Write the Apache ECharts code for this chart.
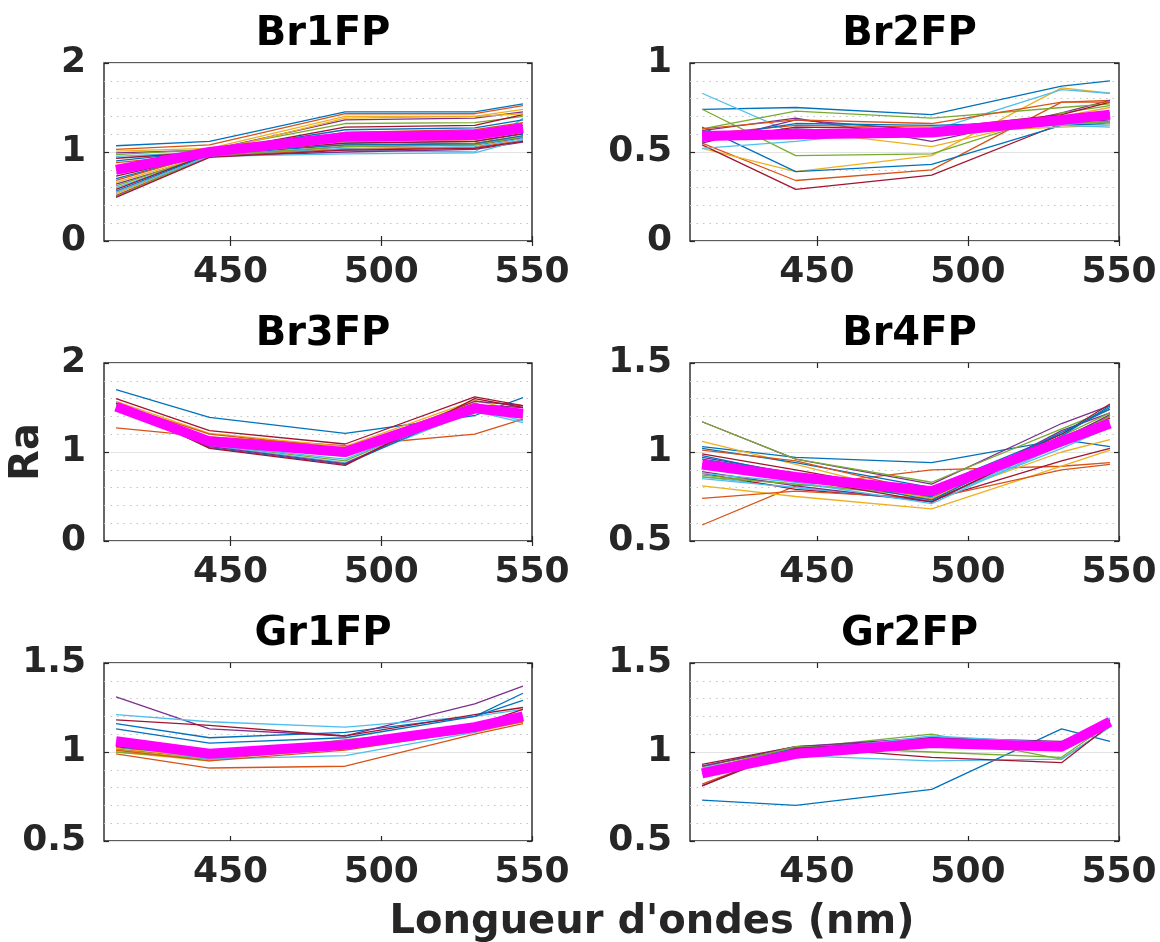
<!DOCTYPE html>
<html>
<head>
<meta charset="utf-8">
<script src="https://cdn.jsdelivr.net/npm/echarts@6/dist/echarts.min.js"></script>
<style>
html,body{margin:0;padding:0;background:#fff;}
#chart{width:1160px;height:942px;}
</style>
</head>
<body>
<div id="chart"></div>
<script>
// ---------- data ----------
const wavelengths = [412, 443, 488, 531, 547];
const panelTitles = ['Br1FP', 'Br2FP', 'Br3FP', 'Br4FP', 'Gr1FP', 'Gr2FP'];
const xTickValues = [450, 500, 550];
const yMins = [0, 0, 0, 0.5, 0.5, 0.5];
const yMaxs = [2, 1, 2, 1.5, 1.5, 1.5];
const yMajorSteps = [1, 0.5, 1, 0.5, 0.5, 0.5];

const br1Lines = [
  [1.07, 1.12, 1.45, 1.45, 1.54],
  [1.03, 1.08, 1.43, 1.43, 1.52],
  [1.01, 1.04, 1.40, 1.40, 1.48],
  [0.99, 1.02, 1.36, 1.38, 1.45],
  [0.97, 1.03, 1.32, 1.33, 1.40],
  [0.95, 1.00, 1.02, 1.00, 1.38],
  [0.93, 1.00, 1.28, 1.30, 1.42],
  [0.90, 1.01, 1.25, 1.27, 1.36],
  [0.88, 0.98, 1.22, 1.25, 1.33],
  [0.85, 1.00, 1.38, 1.40, 1.43],
  [0.82, 0.97, 1.20, 1.22, 1.30],
  [0.79, 0.99, 1.18, 1.20, 1.28],
  [0.76, 0.98, 1.15, 1.16, 1.25],
  [0.73, 0.97, 1.12, 1.14, 1.22],
  [0.70, 0.98, 1.10, 1.12, 1.20],
  [0.68, 0.99, 1.08, 1.10, 1.18],
  [0.66, 0.97, 1.16, 1.18, 1.26],
  [0.64, 0.95, 1.06, 1.08, 1.16],
  [0.62, 0.97, 1.14, 1.15, 1.24],
  [0.60, 0.96, 1.04, 1.06, 1.15],
  [0.58, 0.98, 1.10, 1.12, 1.21],
  [0.56, 0.97, 1.08, 1.09, 1.18],
  [0.55, 0.95, 1.03, 1.05, 1.13],
  [0.53, 0.96, 1.12, 1.14, 1.22],
  [0.51, 0.95, 1.00, 1.03, 1.11],
  [0.50, 0.96, 1.06, 1.08, 1.17],
  [0.55, 0.95, 0.98, 0.99, 1.14],
  [0.49, 0.94, 1.02, 1.04, 1.12]
];
const br1Mean = [0.80, 1.00, 1.17, 1.19, 1.27];

const br2Lines = [
  [0.74, 0.75, 0.71, 0.87, 0.90],
  [0.55, 0.34, 0.40, 0.78, 0.79],
  [0.52, 0.39, 0.48, 0.86, 0.83],
  [0.62, 0.69, 0.56, 0.72, 0.79],
  [0.74, 0.48, 0.49, 0.72, 0.76],
  [0.83, 0.60, 0.62, 0.85, 0.83],
  [0.54, 0.29, 0.37, 0.66, 0.67],
  [0.64, 0.39, 0.43, 0.65, 0.66],
  [0.60, 0.65, 0.64, 0.68, 0.70],
  [0.60, 0.62, 0.53, 0.70, 0.75],
  [0.55, 0.68, 0.62, 0.66, 0.68],
  [0.63, 0.73, 0.69, 0.75, 0.77],
  [0.52, 0.56, 0.64, 0.69, 0.66],
  [0.56, 0.64, 0.63, 0.71, 0.78],
  [0.58, 0.66, 0.65, 0.67, 0.69],
  [0.63, 0.68, 0.66, 0.78, 0.78],
  [0.57, 0.60, 0.61, 0.64, 0.65],
  [0.59, 0.63, 0.60, 0.70, 0.72],
  [0.61, 0.62, 0.62, 0.66, 0.67],
  [0.58, 0.61, 0.63, 0.65, 0.64]
];
const br2Mean = [0.59, 0.60, 0.61, 0.68, 0.71];

const br3Lines = [
  [1.70, 1.39, 1.21, 1.41, 1.61],
  [1.27, 1.17, 1.07, 1.20, 1.37],
  [1.57, 1.21, 1.06, 1.58, 1.45],
  [1.55, 1.15, 1.00, 1.57, 1.52],
  [1.52, 1.08, 0.90, 1.52, 1.40],
  [1.50, 1.07, 0.88, 1.46, 1.33],
  [1.60, 1.24, 1.09, 1.62, 1.52],
  [1.52, 1.05, 0.86, 1.50, 1.45],
  [1.54, 1.20, 1.04, 1.55, 1.40],
  [1.51, 1.13, 0.98, 1.52, 1.38],
  [1.50, 1.06, 0.87, 1.53, 1.50],
  [1.49, 1.10, 0.95, 1.48, 1.39],
  [1.53, 1.08, 0.92, 1.49, 1.35],
  [1.55, 1.04, 0.85, 1.60, 1.50]
];
const br3Mean = [1.51, 1.12, 1.00, 1.49, 1.43];

const br4Lines = [
  [1.03, 0.97, 0.94, 1.07, 1.03],
  [0.59, 0.81, 0.90, 0.92, 0.94],
  [1.06, 0.93, 0.74, 1.00, 1.07],
  [1.17, 0.96, 0.82, 1.16, 1.26],
  [1.17, 0.96, 0.83, 1.13, 1.24],
  [0.86, 0.80, 0.72, 1.05, 1.18],
  [0.88, 0.79, 0.73, 0.95, 1.02],
  [1.02, 0.94, 0.80, 1.10, 1.25],
  [1.01, 0.95, 0.77, 1.08, 1.20],
  [0.81, 0.75, 0.68, 0.92, 1.01],
  [0.97, 0.88, 0.74, 1.12, 1.22],
  [0.87, 0.82, 0.75, 1.08, 1.20],
  [0.85, 0.80, 0.73, 1.02, 1.14],
  [0.99, 0.90, 0.76, 1.10, 1.27],
  [0.96, 0.88, 0.75, 1.11, 1.24],
  [0.74, 0.78, 0.74, 0.90, 0.93],
  [0.93, 0.86, 0.74, 1.06, 1.16],
  [0.89, 0.81, 0.72, 1.07, 1.21],
  [0.86, 0.82, 0.76, 1.09, 1.22],
  [0.88, 0.83, 0.71, 1.04, 1.17],
  [0.93, 0.85, 0.72, 1.07, 1.19],
  [0.98, 0.87, 0.73, 1.09, 1.26]
];
const br4Mean = [0.93, 0.86, 0.78, 1.06, 1.16];

const gr1Lines = [
  [1.16, 1.08, 1.11, 1.20, 1.33],
  [0.99, 0.91, 0.92, 1.10, 1.16],
  [1.00, 0.95, 1.05, 1.12, 1.17],
  [1.31, 1.13, 1.09, 1.27, 1.37],
  [1.01, 0.97, 1.07, 1.13, 1.19],
  [1.21, 1.17, 1.14, 1.20, 1.24],
  [1.18, 1.15, 1.09, 1.21, 1.25],
  [1.13, 1.05, 1.08, 1.20, 1.29],
  [1.02, 0.96, 1.02, 1.12, 1.18],
  [1.01, 0.96, 1.04, 1.11, 1.17],
  [1.02, 0.97, 1.03, 1.13, 1.20],
  [1.00, 0.96, 1.04, 1.12, 1.18],
  [1.03, 0.96, 0.98, 1.11, 1.19],
  [1.03, 0.98, 1.03, 1.15, 1.24],
  [1.02, 0.99, 1.06, 1.14, 1.20],
  [1.01, 0.95, 1.01, 1.12, 1.17],
  [1.02, 0.97, 1.03, 1.13, 1.18]
];
const gr1Mean = [1.06, 0.99, 1.04, 1.14, 1.20];

const gr2Lines = [
  [0.73, 0.70, 0.79, 1.13, 1.06],
  [0.82, 1.02, 1.06, 1.04, 1.16],
  [0.88, 1.01, 1.08, 1.02, 1.15],
  [0.81, 1.03, 1.07, 1.05, 1.17],
  [0.92, 1.02, 1.10, 0.96, 1.14],
  [0.92, 0.98, 0.95, 0.96, 1.14],
  [0.93, 1.03, 0.97, 0.94, 1.15],
  [0.90, 1.02, 1.07, 1.03, 1.18],
  [0.89, 1.00, 1.08, 1.04, 1.17],
  [0.91, 1.01, 1.06, 1.01, 1.16],
  [0.92, 1.03, 1.08, 1.06, 1.18],
  [0.90, 1.03, 1.00, 0.97, 1.16],
  [0.91, 1.00, 1.09, 1.05, 1.19],
  [0.81, 1.02, 1.06, 1.02, 1.15]
];
const gr2Mean = [0.88, 0.99, 1.05, 1.03, 1.17];

const panelLines = [br1Lines, br2Lines, br3Lines, br4Lines, gr1Lines, gr2Lines];
const panelMeans = [br1Mean, br2Mean, br3Mean, br4Mean, gr1Mean, gr2Mean];

// ---------- style / layout ----------
const lineColors = ['#0072BD', '#D95319', '#EDB120', '#7E2F8E', '#77AC30', '#4DBEEE', '#A2142F'];
const FONT = 'DejaVu Sans';
const TXT = '#262626';
const colLeft = [104, 690];
const colWidth = [428, 429];
const rowTop = [63, 363, 663];
const plotH = 178;

const grids = [], xAxes = [], yAxes = [], series = [], titles = [];
panelTitles.forEach((name, i) => {
  const r = Math.floor(i / 2), c = i % 2;
  grids.push({left: colLeft[c], top: rowTop[r], width: colWidth[c], height: plotH,
    show: true, borderColor: TXT, borderWidth: 1.4, backgroundColor: '#fff', containLabel: false});
  const xBase = {type: 'value', gridIndex: i, min: 408, max: 550,
    axisLine: {show: false}, splitLine: {show: false}};
  xAxes.push(Object.assign({}, xBase, {position: 'bottom',
    axisTick: {show: true, inside: true, length: 5, lineStyle: {color: TXT, width: 1.2}, customValues: xTickValues},
    axisLabel: {show: true, customValues: xTickValues, fontFamily: FONT, fontWeight: 'bold', fontSize: 36, color: TXT, margin: 14}}));
  xAxes.push(Object.assign({}, xBase, {position: 'top',
    axisTick: {show: true, inside: true, length: 5, lineStyle: {color: TXT, width: 1.2}, customValues: xTickValues},
    axisLabel: {show: false}}));
  const yBase = {type: 'value', gridIndex: i, min: yMins[i], max: yMaxs[i], interval: yMajorSteps[i],
    axisLine: {show: false}};
  yAxes.push(Object.assign({}, yBase, {position: 'left',
    axisTick: {show: true, inside: true, length: 5, lineStyle: {color: TXT, width: 1.2}},
    axisLabel: {show: true, fontFamily: FONT, fontWeight: 'bold', fontSize: 36, color: TXT, margin: 18,
      formatter: v => String(+v.toFixed(2))},
    splitLine: {show: true, lineStyle: {color: '#e3e3e3', width: 1.2}},
    minorTick: {show: false, splitNumber: 5},
    minorSplitLine: {show: true, lineStyle: {color: '#c4c4c4', width: 1.2, type: [1.5, 5]}}}));
  yAxes.push(Object.assign({}, yBase, {position: 'right',
    axisTick: {show: true, inside: true, length: 5, lineStyle: {color: TXT, width: 1.2}},
    axisLabel: {show: false}, splitLine: {show: false}}));
  panelLines[i].forEach((vals, k) => {
    series.push({type: 'line', xAxisIndex: 2 * i, yAxisIndex: 2 * i, symbol: 'none', silent: true,
      data: wavelengths.map((w, j) => [w, vals[j]]),
      lineStyle: {color: lineColors[k % lineColors.length], width: 1.3}, z: 2});
  });
  series.push({type: 'line', xAxisIndex: 2 * i, yAxisIndex: 2 * i, symbol: 'none', silent: true,
    data: wavelengths.map((w, j) => [w, panelMeans[i][j]]),
    lineStyle: {color: '#FF00FF', width: 10, join: 'round', cap: 'butt'}, z: 3});
  titles.push({text: name, left: colLeft[c] + colWidth[c] / 2, top: rowTop[r] - 53, textAlign: 'center',
    textStyle: {fontFamily: FONT, fontWeight: 'bold', fontSize: 40, color: '#000'}});
});

const chart = echarts.init(document.getElementById('chart'), null, {renderer: 'canvas'});
chart.setOption({
  animation: false,
  backgroundColor: '#fff',
  title: titles,
  grid: grids,
  xAxis: xAxes,
  yAxis: yAxes,
  series: series,
  graphic: [
    {type: 'text', x: 28, y: 452, rotation: Math.PI / 2,
      style: {text: 'Ra', fontFamily: FONT, fontWeight: 'bold', fontSize: 40, fill: TXT, align: 'center', verticalAlign: 'middle'}},
    {type: 'text', x: 652, y: 923,
      style: {text: "Longueur d'ondes (nm)", fontFamily: FONT, fontWeight: 'bold', fontSize: 40, fill: TXT, align: 'center', verticalAlign: 'middle'}}
  ]
});
</script>
</body>
</html>
